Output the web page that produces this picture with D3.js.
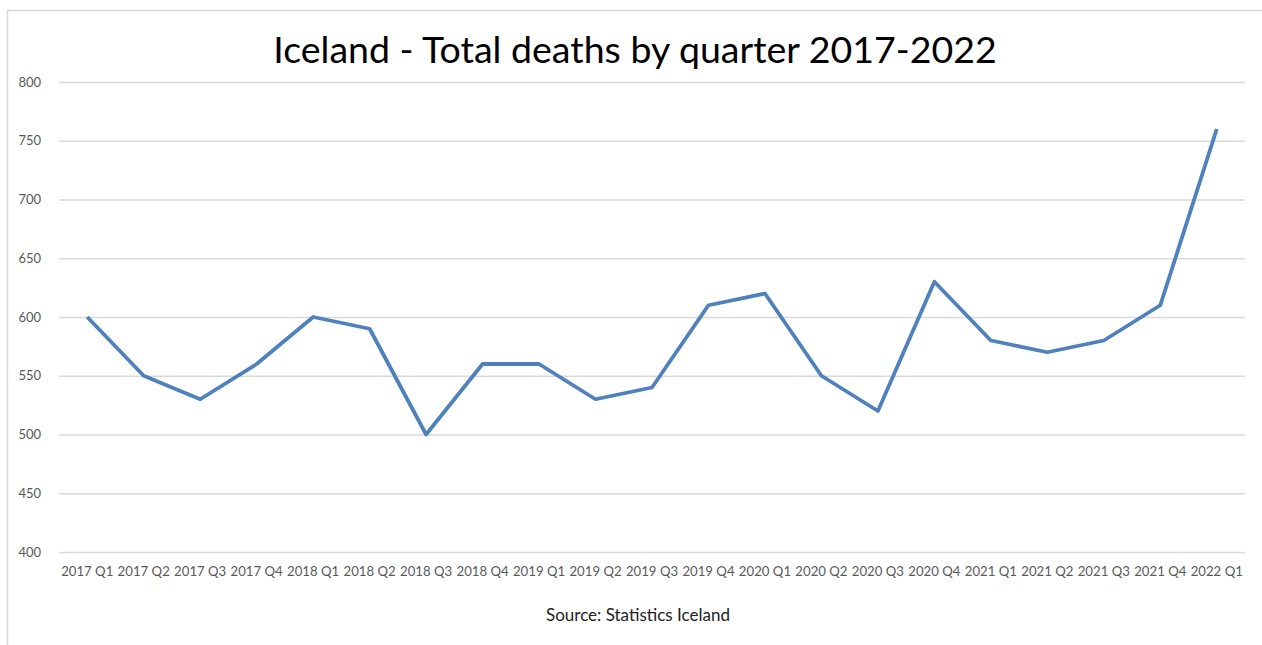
<!DOCTYPE html>
<html>
<head>
    <title>Iceland - Total deaths by quarter</title>
    <script src="https://d3js.org/d3.v7.min.js"></script>
    <style>
        body { margin: 0; background: #fff; }
    </style>
</head>
<body>
    <script>
// data
const quarters = ["2017 Q1", "2017 Q2", "2017 Q3", "2017 Q4", "2018 Q1", "2018 Q2", "2018 Q3",
                  "2018 Q4", "2019 Q1", "2019 Q2", "2019 Q3", "2019 Q4", "2020 Q1", "2020 Q2",
                  "2020 Q3", "2020 Q4", "2021 Q1", "2021 Q2", "2021 Q3", "2021 Q4", "2022 Q1"];
const deaths = [600, 550, 530, 560, 600, 590, 500, 560, 560, 530, 540, 610,
                620, 550, 520, 630, 580, 570, 580, 610, 760];
const yTicks = [400, 450, 500, 550, 600, 650, 700, 750, 800];

const width = 1262, height = 645;
const margin = {top: 82, right: 17, bottom: 93, left: 59};

let svg = d3.select("body")
    .append("svg")
    .attr("width", width)
    .attr("height", height);

// chart frame (only top and left edges show in the crop)
svg.append("path")
    .attr("d", `M7.5,${height} V10.5 H${width}`)
    .attr("fill", "none")
    .attr("stroke", "#d9d9d9")
    .attr("stroke-width", 1.5);

let x = d3.scaleBand()
    .domain(quarters)
    .range([margin.left, width - margin.right]);

let y = d3.scaleLinear()
    .domain([400, 800])
    .range([height - margin.bottom, margin.top]);

// gridlines + y labels
let yAxis = svg.append("g")
    .attr("transform", `translate(${margin.left},0)`)
    .call(d3.axisLeft(y).tickValues(yTicks)
        .tickSize(-(width - margin.left - margin.right))
        .tickPadding(18));
yAxis.select(".domain").remove();
yAxis.selectAll("line").attr("stroke", "#d9d9d9").attr("stroke-width", 1.3);
yAxis.selectAll("text")
    .attr("fill", "#595959")
    .style("font-family", "Lato, 'Open Sans', sans-serif")
    .style("font-size", "13px");

// x labels
let xAxis = svg.append("g")
    .attr("transform", `translate(0,${height - margin.bottom})`)
    .call(d3.axisBottom(x).tickSize(0).tickPadding(15));
xAxis.select(".domain").remove();
xAxis.selectAll("text")
    .attr("fill", "#595959")
    .style("font-family", "Lato, 'Open Sans', sans-serif")
    .style("font-size", "13.2px");

// the series
let line = d3.line()
    .x((d, i) => x(quarters[i]) + x.bandwidth() / 2)
    .y(d => y(d));

svg.append("path")
    .datum(deaths)
    .attr("d", line)
    .attr("fill", "none")
    .attr("stroke", "#4f81bd")
    .attr("stroke-width", 3.8)
    .attr("stroke-linejoin", "round");

// title
svg.append("text")
    .attr("x", 635)
    .attr("y", 63)
    .attr("text-anchor", "middle")
    .style("font-family", "Lato, 'Open Sans', sans-serif")
    .style("font-size", "37.5px")
    .attr("fill", "#000")
    .text("Iceland - Total deaths by quarter 2017-2022");

// source note
svg.append("text")
    .attr("x", 638)
    .attr("y", 621)
    .attr("text-anchor", "middle")
    .style("font-family", "Lato, 'Open Sans', sans-serif")
    .style("font-size", "17px")
    .attr("fill", "#222")
    .text("Source: Statistics Iceland");

    </script>
</body>
</html>
